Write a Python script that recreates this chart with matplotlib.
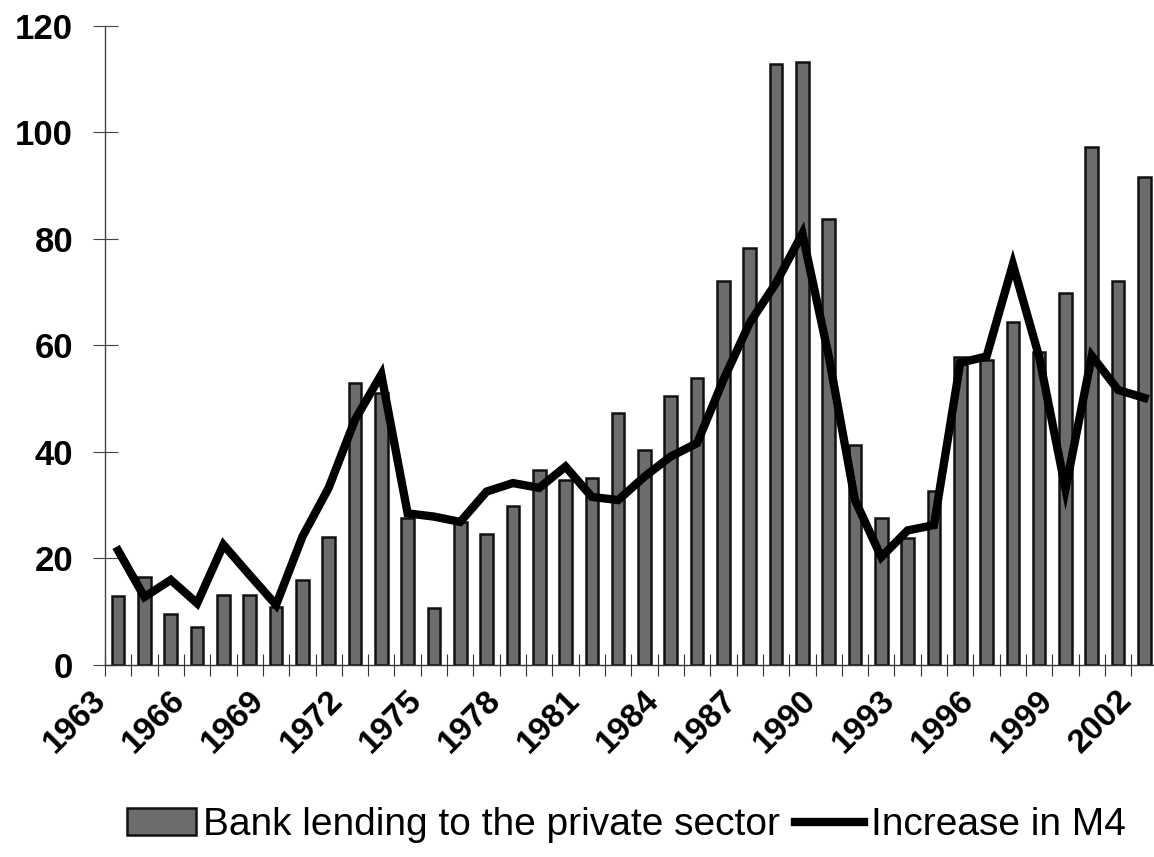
import matplotlib
matplotlib.use("Agg")
import matplotlib.pyplot as plt
import numpy as np

years = list(range(1963, 2003))
bank_lending = [12.8, 16.5, 9.4, 7.0, 13.1, 13.1, 10.8, 15.8, 24.0, 52.9,
                51.1, 27.5, 10.6, 26.8, 24.6, 29.7, 36.6, 34.7, 35.0, 47.2,
                40.3, 50.5, 53.9, 72.0, 78.3, 112.8, 113.3, 83.7, 41.3, 27.5,
                23.8, 32.7, 57.7, 57.2, 64.4, 58.8, 69.8, 97.2, 72.1, 91.7]
m4_increase = [21.4, 12.7, 15.9, 11.5, 22.5, 16.8, 11.2, 24.0, 33.2, 46.0,
               54.5, 28.4, 27.8, 26.8, 32.5, 34.1, 33.2, 37.2, 31.5, 30.9,
               35.3, 39.1, 41.6, 53.5, 64.2, 71.7, 81.0, 58.0, 30.9, 20.2,
               25.2, 26.2, 56.7, 57.9, 75.2, 57.8, 33.0, 58.0, 51.6, 50.1]
y_ticks = [0, 20, 40, 60, 80, 100, 120]
label_every = 3

plt.rcParams['font.family'] = ['Liberation Sans', 'DejaVu Sans']

W, H = 1154, 857
fig = plt.figure(figsize=(W / 100, H / 100), dpi=100)
left, right, top, bottom = 105, 1157.6, 26, 664.5
ax = fig.add_axes([left / W, 1 - bottom / H, (right - left) / W, (bottom - top) / H])

x = np.arange(len(years))
bars = ax.bar(x, bank_lending, width=0.48, color='#6c6c6c', edgecolor='#111111',
              linewidth=1.8, label='Bank lending to the private sector', zorder=2)
line, = ax.plot(x, m4_increase, color='black', linewidth=6, solid_joinstyle='miter',
                label='Increase in M4', zorder=3)

ax.set_xlim(-0.5, len(years) - 0.5)
ax.set_ylim(0, 120)
for s in ['top', 'right']:
    ax.spines[s].set_visible(False)
ax.spines['left'].set_color('#444444')
ax.spines['bottom'].set_color('#333333')
ax.spines['left'].set_linewidth(1.0)
ax.spines['bottom'].set_linewidth(1.0)

ax.set_yticks(y_ticks)
ax.set_yticklabels([str(v) for v in y_ticks], fontsize=25, fontweight='bold')
ax.tick_params(axis='y', direction='inout', length=18, width=0.8, color='#444444', pad=14)

# category boundaries as ticks
ax.set_xticks(np.arange(-0.5, len(years) + 0.5, 1.0), minor=False)
ax.set_xticklabels([])
ax.tick_params(axis='x', direction='inout', length=16, width=0.8, color='#333333')

for i in range(0, len(years), label_every):
    ax.text(i - 0.42, -6.9, str(years[i]), rotation=45, ha='right', va='baseline',
            rotation_mode='anchor', fontsize=24, fontweight='bold',
            transform=ax.transData, clip_on=False)

leg = fig.legend(handles=[bars, line], loc='center', bbox_to_anchor=(0.543, 0.037),
                 ncol=2, frameon=False, fontsize=28, handlelength=1.78,
                 handleheight=0.67, handletextpad=0.18, columnspacing=0.38,
                 borderpad=0)

fig.savefig('out.png', dpi=100)
